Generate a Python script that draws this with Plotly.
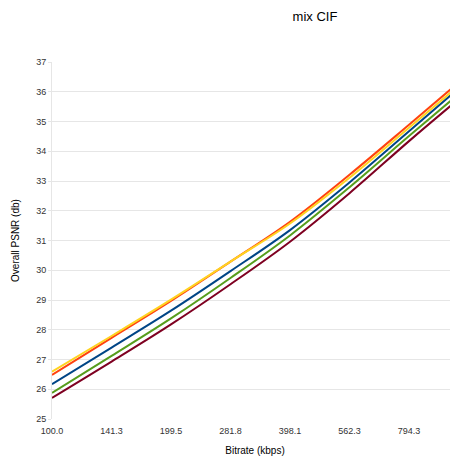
"""PSNR vs bitrate curves for the mix CIF sequence."""

import plotly.graph_objects as go

BITRATE_KBPS = [100.0, 141.3, 199.5, 281.8, 398.1, 562.3, 794.3, 1055.0]

PSNR_SERIES_1 = [26.17, 27.40, 28.64, 29.97, 31.35, 32.95, 34.67, 36.09]
PSNR_SERIES_2 = [26.48, 27.73, 28.97, 30.29, 31.63, 33.21, 34.89, 36.29]
PSNR_SERIES_3 = [26.59, 27.79, 29.01, 30.29, 31.57, 33.11, 34.79, 36.18]
PSNR_SERIES_4 = [25.88, 27.12, 28.38, 29.74, 31.17, 32.79, 34.51, 35.90]
PSNR_SERIES_5 = [25.71, 26.93, 28.18, 29.53, 30.96, 32.59, 34.34, 35.73]

SERIES = [
    ("Series 1", PSNR_SERIES_1, "#004586"),
    ("Series 2", PSNR_SERIES_2, "#FF420E"),
    ("Series 3", PSNR_SERIES_3, "#FFD320"),
    ("Series 4", PSNR_SERIES_4, "#579D1C"),
    ("Series 5", PSNR_SERIES_5, "#7E0021"),
]

GRID = "#e6e6e6"

fig = go.Figure()
for name, values, color in SERIES:
    fig.add_trace(
        go.Scatter(
            x=BITRATE_KBPS,
            y=values,
            name=name,
            mode="lines",
            line={"color": color, "width": 2, "shape": "spline", "smoothing": 1},
        )
    )

# the page puts an 8px body margin round the figure; keep the page from overflowing
fig.update_layout(
    width=450,
    height=448,
    margin={"l": 44, "r": 0, "t": 54, "b": 34},
    paper_bgcolor="white",
    plot_bgcolor="white",
    showlegend=False,
    font={"family": "Liberation Sans, Arial, sans-serif", "color": "#333333", "size": 9},
    title={
        "text": "mix CIF",
        "x": 307 / 450,
        "xref": "container",
        "xanchor": "center",
        "y": 1 - 8 / 448,
        "yref": "container",
        "yanchor": "middle",
        "font": {"size": 13, "color": "#000000"},
    },
)
fig.update_xaxes(
    type="log",
    range=[2.0, 3.0235],
    tickmode="linear",
    tick0=2,
    dtick=0.15,
    tickformat=".1f",
    ticks="outside",
    ticklen=3,
    tickcolor="white",
    showgrid=False,
    zeroline=False,
    showline=False,
    title={"text": "Bitrate (kbps)", "font": {"size": 10, "color": "#000000"}, "standoff": 13},
)
fig.update_yaxes(
    range=[25, 37],
    dtick=1,
    showgrid=True,
    gridcolor=GRID,
    gridwidth=1,
    zeroline=False,
    showline=True,
    linecolor=GRID,
    ticks="outside",
    ticklen=3,
    tickcolor=GRID,
    title={"text": "Overall PSNR (db)", "font": {"size": 10, "color": "#000000"}, "standoff": 14},
)

fig.write_html("out.html")
